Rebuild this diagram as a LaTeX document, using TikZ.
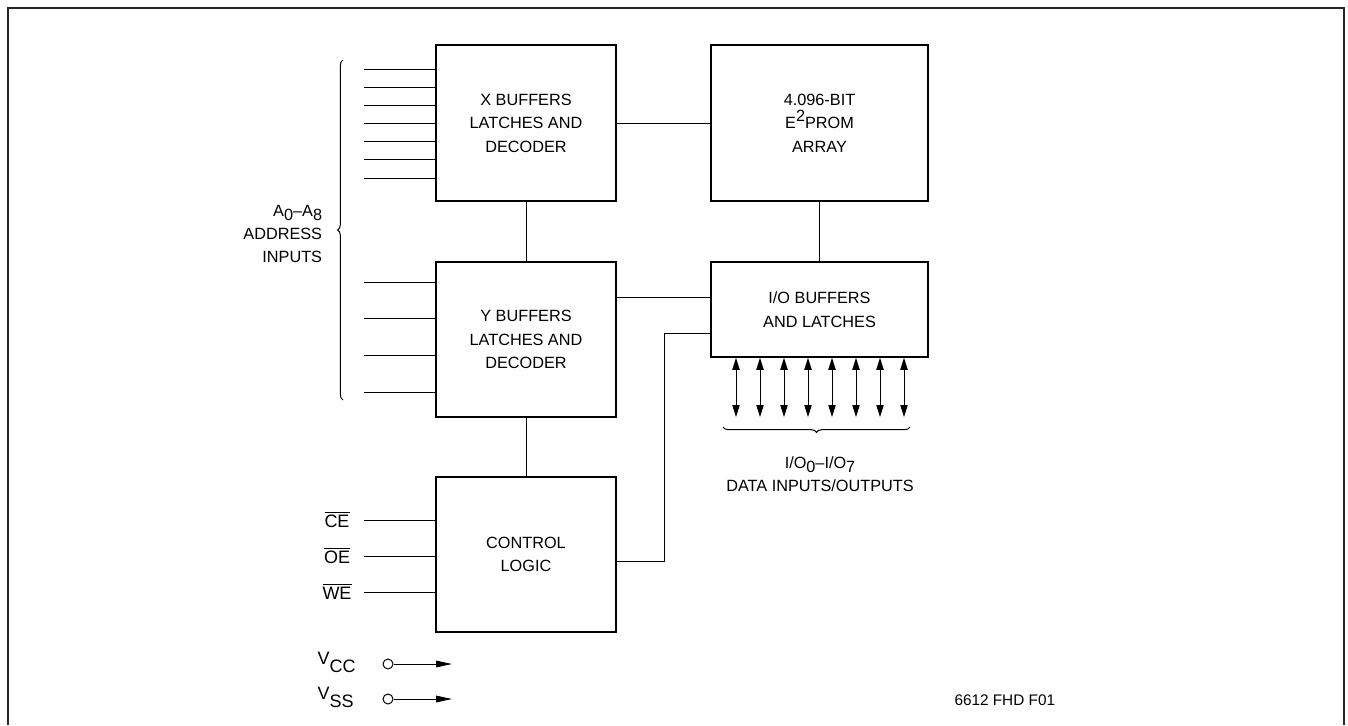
\documentclass[tikz,border=0pt]{standalone}
\usepackage{fontspec}
\setmainfont{Liberation Sans}
\usetikzlibrary{arrows.meta,decorations.pathreplacing}
\newcommand\lowsub[1]{\raisebox{-0.3em}{#1}}
\newcommand\highsup[1]{\raisebox{0.45em}{#1}}

\begin{document}
\begin{tikzpicture}[x=0.75pt,y=-0.75pt,line width=0.75pt,
  font=\fontsize{12.2}{17.6}\selectfont,
  blk/.style n args={2}{draw,line width=1.2pt,minimum width=#1,minimum height=#2,align=center,inner sep=0pt},
  io/.style={{Triangle[length=9pt,width=5.5pt]}-{Triangle[length=9pt,width=5.5pt]}},
  pwr/.style={-{Triangle[length=12pt,width=5pt]}},
  pin/.style={circle,draw,inner sep=0pt,minimum size=7.5pt},
  sig/.style={inner sep=0pt,font=\fontsize{13.5}{16}\selectfont},
  brc/.style={decorate,decoration={brace,amplitude=4pt}}]
\useasboundingbox (0,0) rectangle (1348,725);
\draw[line width=1.4pt,black!85] (8,725) -- (8,8) -- (1344,8) -- (1344,725);
% blocks
\node[blk={135pt}{117pt}] (xbuf) at (526,123) {X BUFFERS\\LATCHES AND\\DECODER};
\node[blk={162.75pt}{117pt}] (prom) at (819.5,123) {4.096-BIT\\E\highsup{2}PROM\\ARRAY};
\node[blk={135pt}{116.25pt}] (ybuf) at (526,339.5) {Y BUFFERS\\LATCHES AND\\DECODER};
\node[blk={162.75pt}{71.25pt}] (iob) at (819.5,309.5) {I/O BUFFERS\\AND LATCHES};
\node[blk={135pt}{116.25pt}] (ctl) at (526,554.5) {CONTROL\\LOGIC};
% links
\draw (xbuf) -- (prom);
\draw (xbuf) -- (ybuf);
\draw (ybuf) -- (ctl);
\draw (prom) -- (iob);
\draw (ybuf.east |- 0,297) -- (iob.west |- 0,297);
\draw (ctl.east |- 0,561) -| (664,333) -- (iob.west |- 0,333);
% address inputs
\foreach \i [evaluate=\i as \y using {69+18.17*\i}] in {0,...,6} {
   \draw (364,\y) -- (xbuf.west |- 0,\y);
}
\foreach \i [evaluate=\i as \y using {282+36.67*\i}] in {0,...,3} {
   \draw (364,\y) -- (ybuf.west |- 0,\y);
}
\draw[brc] (343,400) -- (343,60);
\node[align=right,anchor=east] (addr) at (327,234) {A\lowsub{0}–A\lowsub{8}\\ADDRESS\\INPUTS};
% control inputs
\foreach \sig/\y in {CE/520,OE/556,WE/592} {
   \node[sig,anchor=base] at (337,\y+7) {$\overline{\mbox{\sig}}$};
   \draw (364,\y) -- (ctl.west |- 0,\y);
}
% data lines
\foreach \i [evaluate=\i as \x using {736+24*\i}] in {0,...,7} {
   \draw[io] (iob.south -| \x,0) -- (\x,417);
}
\draw[decorate,decoration={brace,mirror,amplitude=4pt}] (723,427) -- (910,427);
\node[align=center] (data) at (820,474) {I/O\lowsub{0}–I/O\lowsub{7}\\DATA INPUTS/OUTPUTS};
% supply
\node[pin] (vcc) at (388,664) {};
\node[pin] (vss) at (388,699) {};
\draw[pwr] (vcc) -- (452,664);
\draw[pwr] (vss) -- (452,699);
\node[sig,anchor=base west] at (317,664) {V\raisebox{-6pt}{CC}};
\node[sig,anchor=base west] at (317,699) {V\raisebox{-6pt}{SS}};
\node[anchor=base west,inner sep=0pt,font=\fontsize{11.5}{13}\selectfont] at (954,705) {6612 FHD F01};
\end{tikzpicture}
\end{document}
